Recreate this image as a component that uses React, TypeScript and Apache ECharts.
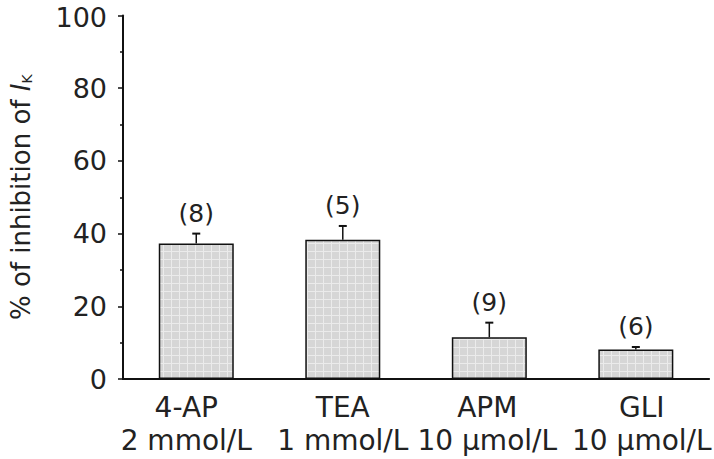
import React, { useEffect, useRef } from "react";
import * as echarts from "echarts";

const categories = ["4-AP\n2 mmol/L", "TEA\n1 mmol/L", "APM\n10 µmol/L", "GLI\n10 µmol/L"];
const means = [37.3, 38.3, 11.5, 8.1];
const errors = [2.7, 3.8, 4.0, 0.7];
const nLabels = ["(8)", "(5)", "(9)", "(6)"];
const yTicks = [0, 20, 40, 60, 80, 100];

const FONT = "DejaVu Sans";
const TEXT = "#222";

function makePattern(): any {
  const c = document.createElement("canvas");
  c.width = 8;
  c.height = 8;
  const ctx = c.getContext("2d");
  if (!ctx) return "#d6d6d6";
  ctx.fillStyle = "#d6d6d6";
  ctx.fillRect(0, 0, 8, 8);
  ctx.fillStyle = "#ebebeb";
  ctx.fillRect(0, 3, 8, 1);
  ctx.fillRect(3, 0, 1, 8);
  return { image: c, repeat: "repeat" };
}

// small horizontal nudges so the outer labels stay inside the picture, as in the reference
const labelPads = [
  [0, 20, 0, 0],
  [0, 0, 0, 0],
  [0, 4, 0, 0],
  [0, 0, 0, 12],
];

export default function App() {
  const ref = useRef<HTMLDivElement>(null);
  useEffect(() => {
    if (!ref.current) return;
    const chart = echarts.init(ref.current, undefined, { renderer: "svg" });
    const fill = makePattern();
    chart.setOption({
      animation: false,
      backgroundColor: "#fff",
      grid: { left: 120, right: 3, top: 13, bottom: 80, containLabel: false },
      xAxis: {
        type: "category",
        data: categories.map((c, i) => ({ value: c, textStyle: { padding: labelPads[i] } })),
        axisLine: { show: true, lineStyle: { color: "#111", width: 2 } },
        axisTick: { show: false },
        axisLabel: {
          color: TEXT,
          fontFamily: FONT,
          fontSize: 28,
          lineHeight: 33,
          margin: 12,
          interval: 0,
          hideOverlap: false,
        },
      },
      yAxis: {
        type: "value",
        min: 0,
        max: 100,
        interval: 20,
        name: "% of inhibition of {i|I}{sub|K}",
        nameLocation: "middle",
        nameGap: 89,
        nameRotate: 90,
        nameTextStyle: {
          color: TEXT,
          fontFamily: FONT,
          fontSize: 26,
          rich: {
            i: { fontFamily: FONT, fontStyle: "italic", fontSize: 26, color: TEXT },
            sub: { fontFamily: FONT, fontSize: 14, color: TEXT, verticalAlign: "bottom", padding: [11, 0, 0, 0] },
          },
        },
        axisLine: { show: true, lineStyle: { color: "#111", width: 2 } },
        axisTick: { show: true, inside: false, length: 5, lineStyle: { color: "#111", width: 1.5 } },
        minorTick: { show: true, splitNumber: 2, length: 3, lineStyle: { color: "#111", width: 1.5 } },
        splitLine: { show: false },
        axisLabel: {
          color: TEXT,
          fontFamily: FONT,
          fontSize: 27,
          lineHeight: 22,
          margin: 16,
          formatter: (v: number) =>
            v === 100 ? "{top|100}" : yTicks.includes(v) ? String(v) : "",
          rich: {
            top: { fontFamily: FONT, fontSize: 27, color: TEXT, lineHeight: 22, padding: [4, 0, 0, 0] },
          },
        },
      },
      series: [
        {
          type: "bar",
          data: means,
          barWidth: 75,
          itemStyle: { color: fill, borderColor: "#111", borderWidth: 1.5 },
        },
        {
          type: "custom",
          data: means.map((m, i) => [i, m, errors[i]]),
          z: 5,
          renderItem: (params: any, api: any) => {
            const x = api.value(0);
            const m = api.value(1);
            const e = api.value(2);
            const base = api.coord([x, m]);
            const top = api.coord([x, m + e]);
            const half = 4;
            return {
              type: "group",
              children: [
                {
                  type: "line",
                  shape: { x1: base[0], y1: base[1], x2: top[0], y2: top[1] },
                  style: { stroke: "#111", lineWidth: 1.5 },
                },
                {
                  type: "line",
                  shape: { x1: top[0] - half, y1: top[1], x2: top[0] + half, y2: top[1] },
                  style: { stroke: "#111", lineWidth: 2 },
                },
                {
                  type: "text",
                  x: top[0],
                  y: top[1] - 8,
                  style: {
                    text: nLabels[params.dataIndex],
                    fill: TEXT,
                    font: `25px "${FONT}"`,
                    textAlign: "center",
                    textVerticalAlign: "bottom",
                  },
                },
              ],
            };
          },
        },
      ],
    });
    return () => chart.dispose();
  }, []);
  return (
    <div
      ref={ref}
      style={{ position: "fixed", left: 0, top: 0, width: 714, height: 459 }}
    />
  );
}
